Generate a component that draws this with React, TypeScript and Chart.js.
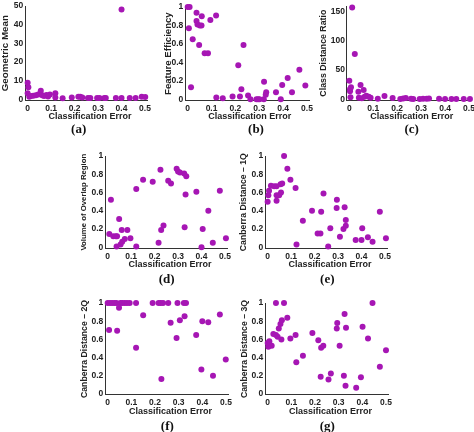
import React, { useEffect, useRef } from "react";
import { Chart, registerables } from "chart.js";

Chart.register(...registerables);

const xTicks = [0, 0.1, 0.2, 0.3, 0.4, 0.5];
const unitTicks = [0, 0.2, 0.4, 0.6, 0.8, 1];
const geoTicks = [0, 10, 20, 30, 40, 50];
const cdrTicks = [0, 50, 100, 150];

const xTitle = "Classification Error";

// (a) Geometric Mean
const aX = [0, 0.003, 0, 0.007, 0.014, 0.024, 0.035, 0.045, 0.052, 0.056, 0.062, 0.07, 0.08, 0.087, 0.095, 0.118, 0.118, 0.149, 0.188, 0.216, 0.224, 0.233, 0.257, 0.267, 0.296, 0.306, 0.327, 0.333, 0.376, 0.4, 0.4, 0.435, 0.46, 0.486, 0.501];
const aY = [8.8, 6.4, 3.2, 1.4, 1.8, 1.9, 2.1, 2.5, 2.8, 4.6, 2.2, 1.8, 2.3, 1.5, 2.5, 3.2, 1.0, 0.5, 1.0, 1.4, 1.3, 0.9, 0.7, 0.7, 0.7, 0.7, 0.7, 0.7, 0.7, 48.2, 0.7, 0.7, 0.7, 1.4, 1.2];

// (b) Feature Efficiency
const bX = [0, 0.008, 0.005, 0.014, 0.021, 0.037, 0.037, 0.041, 0.051, 0.058, 0.048, 0.059, 0.071, 0.085, 0.095, 0.119, 0.12, 0.147, 0.188, 0.212, 0.219, 0.225, 0.234, 0.253, 0.263, 0.288, 0.295, 0.301, 0.319, 0.32, 0.329, 0.327, 0.37, 0.39, 0.396, 0.419, 0.437, 0.468, 0.493];
const bY = [1.0, 1.0, 0.77, 0.13, 0.65, 0.94, 0.85, 0.81, 0.8, 0.8, 0.59, 0.9, 0.5, 0.5, 0.86, 0.91, 0.02, 0.01, 0.03, 0.37, 0.03, 0.11, 0.59, 0.04, 0.0, 0.0, 0.0, 0.0, 0.0, 0.19, 0.075, 0.05, 0.075, 0.0, 0.155, 0.23, 0.075, 0.32, 0.15];

// (c) Class Distance Ratio
const cX = [0.012, 0.023, 0, 0.007, 0.003, 0.003, 0.005, 0.038, 0.047, 0.06, 0.04, 0.052, 0.064, 0.071, 0.081, 0.089, 0.119, 0.147, 0.181, 0.213, 0.225, 0.236, 0.258, 0.267, 0.294, 0.308, 0.323, 0.333, 0.375, 0.4, 0.427, 0.447, 0.478, 0.504];
const cY = [157.5, 77.6, 31.9, 20.5, 17, 13.7, 3.4, 13, 24.5, 16, 2.8, 1.7, 4.5, 6.2, 4.5, 2.8, 1.1, 5.7, 2.3, 0.5, 1.2, 2.0, 0.8, 0.6, 0.6, 1.0, 0.8, 1.5, 0.7, 0.6, 0.5, 0.4, 0.6, 0.5];

// (d) Volume of Overlap Region
const dX = [0.007, 0.014, 0.024, 0.035, 0.04, 0.038, 0.049, 0.055, 0.06, 0.062, 0.073, 0.084, 0.097, 0.122, 0.122, 0.151, 0.192, 0.217, 0.225, 0.228, 0.238, 0.258, 0.27, 0.294, 0.3, 0.308, 0.326, 0.335, 0.332, 0.328, 0.378, 0.4, 0.405, 0.429, 0.448, 0.478, 0.504];
const dY = [0.145, 0.52, 0.12, 0.12, 0.12, 0.01, 0.31, 0.03, 0.19, 0.06, 0.09, 0.19, 0.1, 0.64, 0.01, 0.74, 0.72, 0.05, 0.85, 0.19, 0.24, 0.73, 0.7, 0.86, 0.83, 0.82, 0.81, 0.78, 0.58, 0.22, 0.61, 0.0, 0.2, 0.4, 0.05, 0.62, 0.1];

// (e) Canberra Distance – 1Q
const eX = [0, 0.003, 0.006, 0.014, 0.028, 0.038, 0.038, 0.038, 0.049, 0.055, 0.062, 0.057, 0.07, 0.084, 0.097, 0.119, 0.123, 0.15, 0.189, 0.213, 0.225, 0.228, 0.238, 0.258, 0.267, 0.294, 0.295, 0.308, 0.323, 0.328, 0.333, 0.333, 0.375, 0.4, 0.403, 0.427, 0.447, 0.478, 0.504];
const eY = [0.5, 0.57, 0.62, 0.675, 0.67, 0.67, 0.57, 0.51, 0.57, 0.69, 0.7, 0.6, 1.0, 0.86, 0.74, 0.65, 0.03, 0.29, 0.4, 0.15, 0.15, 0.39, 0.59, 0.01, 0.21, 0.43, 0.52, 0.115, 0.2, 0.44, 0.3, 0.235, 0.08, 0.08, 0.21, 0.11, 0.06, 0.39, 0.1];

// (f) Canberra Distance – 2Q
const fX = [0, 0.01, 0.019, 0.029, 0.037, 0.054, 0.062, 0.072, 0.082, 0.093, 0.12, 0.19, 0.215, 0.224, 0.234, 0.256, 0.295, 0.322, 0.331, 0.006, 0.04, 0.048, 0.12, 0.15, 0.227, 0.266, 0.291, 0.305, 0.325, 0.374, 0.4, 0.396, 0.425, 0.445, 0.474, 0.499];
const fY = [1, 1, 1, 1, 1, 1, 1, 1, 1, 1, 1, 1, 1, 1, 1, 1, 1, 1, 1, 0.705, 0.695, 0.95, 0.51, 0.865, 0.165, 0.785, 0.615, 0.81, 0.855, 0.65, 0.8, 0.27, 0.79, 0.2, 0.875, 0.38];

// (g) Canberra Distance – 3Q
const gX = [0, 0.003, 0.007, 0.01, 0.017, 0.024, 0.035, 0.035, 0.042, 0.047, 0.054, 0.06, 0.058, 0.069, 0.083, 0.096, 0.118, 0.121, 0.149, 0.189, 0.214, 0.224, 0.226, 0.235, 0.257, 0.267, 0.292, 0.294, 0.304, 0.322, 0.325, 0.331, 0.329, 0.374, 0.394, 0.401, 0.424, 0.443, 0.474, 0.5];
const gY = [0.56, 0.52, 0.58, 0.54, 0.53, 0.66, 1.0, 0.65, 0.63, 0.72, 0.77, 0.81, 0.6, 1.0, 0.84, 0.61, 0.65, 0.35, 0.42, 0.67, 0.59, 0.19, 0.51, 0.53, 0.16, 0.225, 0.72, 0.78, 0.53, 0.2, 0.88, 0.73, 0.09, 0.07, 0.185, 0.74, 0.61, 1.0, 0.3, 0.48];

const MARK = "#a616b4";
const FONT = "'Liberation Sans', Arial, sans-serif";

type PanelCfg = {
  label: string;
  yTitle: string;
  yTitleSize: number;
  xTitleShift: number;
  xs: number[];
  ys: number[];
  yMin: number;
  yMax: number;
  yTicks: number[];
  chartLeft: number;
  chartRight: number;
  chartTop: number;
  chartBottom: number;
  titleCenter: number;
  labelX: number;
  labelY: number;
};

const panels: PanelCfg[] = [
  { label: "(a)", yTitle: "Geometric Mean", yTitleSize: 9.8, xTitleShift: 3, xs: aX, ys: aY, yMin: -0.5, yMax: 50, yTicks: geoTicks,
    chartLeft: 25.3, chartRight: 149.4, chartTop: 5.2, chartBottom: 100.2, titleCenter: 5, labelX: 78.7, labelY: 128 },
  { label: "(b)", yTitle: "Feature Efficiency", yTitleSize: 9.6, xTitleShift: 2, xs: bX, ys: bY, yMin: -0.01, yMax: 1, yTicks: unitTicks,
    chartLeft: 185.3, chartRight: 311.7, chartTop: 6.7, chartBottom: 100.2, titleCenter: 168.3, labelX: 256, labelY: 128 },
  { label: "(c)", yTitle: "Class Distance Ratio", yTitleSize: 8.8, xTitleShift: 2, xs: cX, ys: cY, yMin: -1.6, yMax: 160, yTicks: cdrTicks,
    chartLeft: 346.9, chartRight: 473.4, chartTop: 5.8, chartBottom: 100.2, titleCenter: 324, labelX: 411.7, labelY: 128 },
  { label: "(d)", yTitle: "Volume of Overlap Region", yTitleSize: 7.8, xTitleShift: 3, xs: dX, ys: dY, yMin: -0.01, yMax: 1, yTicks: unitTicks,
    chartLeft: 105.3, chartRight: 229.1, chartTop: 155, chartBottom: 248.2, titleCenter: 84, labelX: 166.7, labelY: 278 },
  { label: "(e)", yTitle: "Canberra Distance \u2013 1Q", yTitleSize: 8.7, xTitleShift: 3, xs: eX, ys: eY, yMin: -0.01, yMax: 1, yTicks: unitTicks,
    chartLeft: 265.3, chartRight: 389.1, chartTop: 155, chartBottom: 248.2, titleCenter: 244, labelX: 327.3, labelY: 278 },
  { label: "(f)", yTitle: "Canberra Distance \u2013 2Q", yTitleSize: 8.7, xTitleShift: 3, xs: fX, ys: fY, yMin: -0.01, yMax: 1, yTicks: unitTicks,
    chartLeft: 105.3, chartRight: 230.4, chartTop: 302.3, chartBottom: 394.9, titleCenter: 85, labelX: 167.3, labelY: 425 },
  { label: "(g)", yTitle: "Canberra Distance \u2013 3Q", yTitleSize: 8.7, xTitleShift: 3, xs: gX, ys: gY, yMin: -0.01, yMax: 1, yTicks: unitTicks,
    chartLeft: 265.3, chartRight: 390.1, chartTop: 302.3, chartBottom: 394.9, titleCenter: 245, labelX: 327.3, labelY: 425 },
];

const X_AXIS_H = 22;
const PAD_RIGHT = 4;
const PAD_BOTTOM = 2;

function Panel({ cfg }: { cfg: PanelCfg }) {
  const ref = useRef<HTMLCanvasElement | null>(null);
  const lh = cfg.yTitleSize * 1.2;
  const canvasLeft = Math.floor(cfg.titleCenter - lh / 2);
  const titlePad = cfg.titleCenter - lh / 2 - canvasLeft;
  const yAxisW = cfg.chartLeft - canvasLeft;
  const canvasTop = Math.floor(cfg.chartTop - 6);
  const padTop = cfg.chartTop - canvasTop;
  const width = Math.ceil(cfg.chartRight - canvasLeft + PAD_RIGHT);
  const padRight = width - (cfg.chartRight - canvasLeft);
  const height = Math.ceil(padTop + (cfg.chartBottom - cfg.chartTop) + X_AXIS_H + PAD_BOTTOM);
  const padBottom = height - (padTop + (cfg.chartBottom - cfg.chartTop) + X_AXIS_H);

  useEffect(() => {
    if (!ref.current) return;
    const data = cfg.xs.map((x, i) => ({ x, y: cfg.ys[i] }));
    const tickFont = { family: FONT, size: 8.5, weight: "bold" as const };
    const chart = new Chart(ref.current, {
      type: "scatter",
      data: {
        datasets: [
          {
            data,
            pointRadius: 3,
            pointBackgroundColor: MARK,
            pointBorderWidth: 0,
            showLine: false,
            clip: false as any,
          },
        ],
      },
      options: {
        animation: false,
        responsive: false,
        devicePixelRatio: 1,
        events: [],
        layout: { padding: { left: 0, top: padTop, right: padRight, bottom: padBottom } },
        plugins: { legend: { display: false }, tooltip: { enabled: false } },
        scales: {
          x: {
            type: "linear",
            min: -0.01,
            max: 0.51,
            afterBuildTicks: (s: any) => { s.ticks = xTicks.map((v) => ({ value: v })); },
            afterFit: (s: any) => { s.height = X_AXIS_H; },
            grid: { display: false, drawTicks: false, tickLength: 0 },
            border: { display: true, color: "#333", width: 1 },
            ticks: {
              autoSkip: false,
              maxRotation: 0,
              padding: 3,
              color: "#222",
              font: tickFont,
              callback: (v: any) => String(v),
            },
            title: {
              display: true,
              text: " ".repeat(cfg.xTitleShift) + xTitle,
              color: "#222",
              font: { family: FONT, size: 9, weight: "bold" },
              padding: { top: 0, bottom: 0 },
            },
          },
          y: {
            type: "linear",
            min: cfg.yMin,
            max: cfg.yMax,
            afterBuildTicks: (s: any) => { s.ticks = cfg.yTicks.map((v) => ({ value: v })); },
            afterFit: (s: any) => { s.width = yAxisW; },
            grid: { display: false, drawTicks: false, tickLength: 0 },
            border: { display: true, color: "#333", width: 1 },
            ticks: {
              autoSkip: false,
              padding: 2,
              color: "#222",
              font: tickFont,
              callback: (v: any) => String(v),
            },
            title: {
              display: true,
              text: cfg.yTitle,
              color: "#222",
              font: { family: FONT, size: cfg.yTitleSize, weight: "bold" },
              padding: { top: titlePad, bottom: 0 },
            },
          },
        },
      },
    });
    return () => chart.destroy();
  }, []);

  return (
    <>
      <canvas
        ref={ref}
        width={width}
        height={height}
        style={{ position: "absolute", left: canvasLeft, top: canvasTop, width, height }}
      />
      <div
        style={{
          position: "absolute",
          left: cfg.labelX,
          top: cfg.labelY,
          transform: "translate(-50%, -50%)",
          fontFamily: "'Liberation Serif', 'Times New Roman', serif",
          fontWeight: "bold",
          fontSize: 13,
          color: "#111",
          whiteSpace: "nowrap",
          lineHeight: 1,
        }}
      >
        {cfg.label}
      </div>
    </>
  );
}

export default function App() {
  return (
    <div
      style={{
        position: "absolute",
        left: 0,
        top: 0,
        width: 474,
        height: 432,
        overflow: "hidden",
        background: "#fff",
      }}
    >
      {panels.map((p) => (
        <Panel key={p.label} cfg={p} />
      ))}
    </div>
  );
}
